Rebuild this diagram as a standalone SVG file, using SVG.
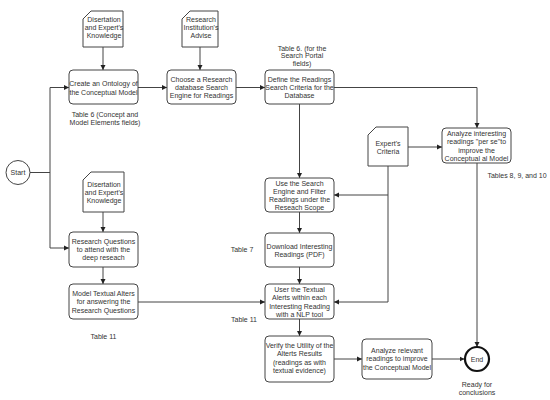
<svg xmlns="http://www.w3.org/2000/svg" width="550" height="400" viewBox="0 0 550 400">
<defs>
<marker id="arr" markerWidth="6" markerHeight="6" refX="5" refY="3" orient="auto" markerUnits="userSpaceOnUse">
<path d="M0,0.5 L5,3 L0,5.5 Z" fill="#222"/>
</marker>
<style>
.box{fill:#fff;stroke:#444;stroke-width:1}
.doc{fill:#fff;stroke:#444;stroke-width:1}
.t{font-family:"Liberation Sans",Arial,sans-serif;font-size:7px;fill:#333;text-anchor:middle}
.c{fill:none;stroke:#444;stroke-width:1}
.ca{fill:none;stroke:#444;stroke-width:1;marker-end:url(#arr)}
</style>
</defs>
<rect width="550" height="400" fill="#fff"/>

<g id="connectors">
<path class="ca" d="M103,47 L103,70"/>
<path class="ca" d="M200,47 L200,70"/>
<path class="ca" d="M138,87.5 L167,87.5"/>
<path class="ca" d="M236,87.5 L265,87.5"/>
<path class="ca" d="M334,87.5 L477,87.5 L477,128"/>
<path class="ca" d="M299.5,104 L299.5,178"/>
<path class="ca" d="M299.5,212 L299.5,233"/>
<path class="ca" d="M299.5,267 L299.5,284"/>
<path class="ca" d="M299.5,319 L299.5,336"/>
<path class="ca" d="M334,359 L362,359"/>
<path class="ca" d="M432,359 L464.5,359"/>
<path class="ca" d="M477,163 L477,347"/>
<path class="ca" d="M408,147 L442,147"/>
<path class="ca" d="M388,166 L388,302 L334,302"/>
<path class="ca" d="M388,195 L334,195"/>
<path class="c" d="M30,172.5 L50,172.5"/>
<path class="ca" d="M69,87.5 L50,87.5 L50,248 L69,248" style="marker-end:url(#arr)"/>
<path class="ca" d="M50,87.5 L69,87.5"/>
<path class="ca" d="M103,212 L103,232"/>
<path class="ca" d="M103,267 L103,284"/>
<path class="ca" d="M138,302 L265,302"/>
</g>

<g id="start">
<circle cx="18" cy="172.5" r="12" fill="#fff" stroke="#444" stroke-width="1"/>
<text class="t" x="18" y="175">Start</text>
</g>

<g id="end">
<circle cx="477" cy="359" r="12" fill="#fff" stroke="#111" stroke-width="2.2"/>
<text class="t" x="477" y="361.5">End</text>
</g>

<g id="doc1">
<path class="doc" d="M91,11 L123,11 L123,47 L83,47 L83,19 Z"/>
<text class="t" x="104" y="21.5">Disertation</text>
<text class="t" x="104" y="29.5">and Expert's</text>
<text class="t" x="104" y="37.5">Knowledge</text>
</g>

<g id="doc2">
<path class="doc" d="M190,11 L218,11 L218,47 L182,47 L182,19 Z"/>
<text class="t" x="201" y="21.5">Research</text>
<text class="t" x="201" y="29.5">Institution's</text>
<text class="t" x="201" y="37.5">Advise</text>
</g>

<g id="doc3">
<path class="doc" d="M91,172 L124,172 L124,212 L83,212 L83,180 Z"/>
<text class="t" x="104" y="186.5">Disertation</text>
<text class="t" x="104" y="194.5">and Expert's</text>
<text class="t" x="104" y="203">Knowledge</text>
</g>

<g id="doc4">
<path class="doc" d="M376,127 L408,127 L408,166 L368,166 L368,135 Z"/>
<text class="t" x="388" y="145.5">Expert's</text>
<text class="t" x="388" y="153.5">Criteria</text>
</g>

<g id="b1">
<rect class="box" x="69" y="70" width="69" height="34" rx="4"/>
<text class="t" x="103.5" y="85.5">Create an Ontology of</text>
<text class="t" x="103.5" y="94.5">the Conceptual Model</text>
</g>

<g id="b2">
<rect class="box" x="167" y="70" width="69" height="34" rx="4"/>
<text class="t" x="201.5" y="81.5">Choose a Research</text>
<text class="t" x="201.5" y="89.8">database Search</text>
<text class="t" x="201.5" y="98.1">Engine for Readings</text>
</g>

<g id="b3">
<rect class="box" x="265" y="70" width="69" height="34" rx="4"/>
<text class="t" x="299.5" y="81.5">Define the Readings</text>
<text class="t" x="299.5" y="89.8">Search Criteria for the</text>
<text class="t" x="299.5" y="98.1">Database</text>
</g>

<g id="b4">
<rect class="box" x="442" y="128" width="69" height="35" rx="4"/>
<text class="t" x="476.5" y="136">Analyze interesting</text>
<text class="t" x="476.5" y="144.3">readings "per se"to</text>
<text class="t" x="476.5" y="152.6">improve the</text>
<text class="t" x="476.5" y="160.9">Conceptual al Model</text>
</g>

<g id="b5">
<rect class="box" x="265" y="178" width="69" height="34" rx="4"/>
<text class="t" x="299.5" y="185.5">Use the Search</text>
<text class="t" x="299.5" y="193.8">Engine and Filter</text>
<text class="t" x="299.5" y="202.1">Readings under the</text>
<text class="t" x="299.5" y="210.4">Reseach Scope</text>
</g>

<g id="b6">
<rect class="box" x="265" y="233" width="69" height="34" rx="4"/>
<text class="t" x="299.5" y="248.5">Download Interesting</text>
<text class="t" x="299.5" y="256.8">Readings (PDF)</text>
</g>

<g id="b7">
<rect class="box" x="69" y="232" width="69" height="35" rx="4"/>
<text class="t" x="103.5" y="243.5">Research Questions</text>
<text class="t" x="103.5" y="251.8">to attend with the</text>
<text class="t" x="103.5" y="260.1">deep reseach</text>
</g>

<g id="b8">
<rect class="box" x="69" y="284" width="69" height="35" rx="4"/>
<text class="t" x="103.5" y="296">Model Textual Alters</text>
<text class="t" x="103.5" y="304.3">for answering the</text>
<text class="t" x="103.5" y="312.6">Research Questions</text>
</g>

<g id="b9">
<rect class="box" x="265" y="284" width="69" height="35" rx="4"/>
<text class="t" x="299.5" y="292">User the Textual</text>
<text class="t" x="299.5" y="300.3">Alerts within each</text>
<text class="t" x="299.5" y="308.6">Interesting Reading</text>
<text class="t" x="299.5" y="316.9">with a NLP tool</text>
</g>

<g id="b10">
<rect class="box" x="265" y="336" width="69" height="46" rx="4"/>
<text class="t" x="299.5" y="348">Verify the Utility of the</text>
<text class="t" x="299.5" y="356.3">Alterts Results</text>
<text class="t" x="299.5" y="364.6">(readings as with</text>
<text class="t" x="299.5" y="372.9">textual evidence)</text>
</g>

<g id="b11">
<rect class="box" x="362" y="339" width="70" height="40" rx="4"/>
<text class="t" x="397" y="353">Analyze relevant</text>
<text class="t" x="397" y="361.3">readings to improve</text>
<text class="t" x="397" y="369.6">the Conceptual Model</text>
</g>

<g id="labels">
<text class="t" x="105" y="116.5">Table 6 (Concept and</text>
<text class="t" x="105" y="125.3">Model Elements fields)</text>
<text class="t" x="302" y="50.5">Table 6. (for the</text>
<text class="t" x="302" y="58.3">Search Portal</text>
<text class="t" x="302" y="66">fields)</text>
<text class="t" x="517" y="177.5">Tables 8, 9, and 10</text>
<text class="t" x="242" y="251.5">Table 7</text>
<text class="t" x="103.5" y="338.5">Table 11</text>
<text class="t" x="244" y="321.5">Table 11</text>
<text class="t" x="477" y="386.5">Ready for</text>
<text class="t" x="477" y="395">conclusions</text>
</g>
</svg>
